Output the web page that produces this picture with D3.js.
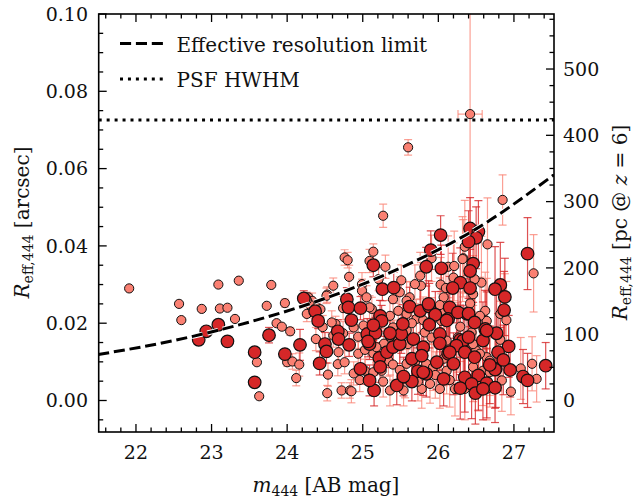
<!DOCTYPE html>
<html><head><meta charset="utf-8">
<script src="https://cdn.jsdelivr.net/npm/d3@7"></script>
<style>
body{margin:0;background:#fff}
svg{display:block}
text{font-family:"DejaVu Serif",serif;fill:#111}
</style>
</head><body>
<svg id="c" width="633" height="499"></svg>
<script>
// ---------- data ----------
const xTicks = [22, 23, 24, 25, 26, 27];
const yTicks = [0, 0.02, 0.04, 0.06, 0.08, 0.10];
const yTickLabels = ["0.00", "0.02", "0.04", "0.06", "0.08", "0.10"];
const pcTicks = [0, 100, 200, 300, 400, 500];
const pcPerArcsec = 5830;          // pc per arcsec at z = 6
const psfHWHM = 0.0726;            // arcsec
const limitM = [21.5, 22.5, 23.5, 24.5, 25.5, 26.5, 27.53];
const limitR = [0.0119, 0.0155, 0.0203, 0.0264, 0.0343, 0.0444, 0.0584];

// faint (salmon) sample
const smallM = [21.91,22.57,22.60,22.87,23.09,23.11,23.21,23.36,23.31,23.60,
  23.63,23.73,23.79,23.86,23.93,23.97,24.04,24.00,24.07,24.16,
  24.12,24.28,24.33,24.30,24.26,24.35,24.38,24.54,24.53,24.67,
  24.64,24.53,24.61,24.52,24.76,24.80,24.82,24.72,24.83,24.59,
  24.61,24.68,25.27,25.60,25.14,25.09,25.30,24.99,25.21,25.77,
  25.91,26.03,26.10,25.40,25.62,24.74,25.12,24.88,25.01,25.36,
  25.40,25.42,25.34,25.40,25.25,25.03,25.14,24.94,24.76,25.58,
  25.69,25.84,25.93,25.89,26.02,25.78,25.36,25.54,24.85,25.47,
  25.58,25.71,25.82,25.91,26.04,26.08,25.60,26.04,26.11,24.99,
  25.05,25.09,25.49,25.51,25.58,25.69,25.76,26.13,26.21,26.33,
  26.42,26.57,26.46,26.62,26.64,26.82,26.88,26.50,26.64,25.91,
  26.07,26.35,26.65,26.85,26.42,27.26,27.09,27.24,27.30,26.96,
  26.84,26.55,26.11,26.07,26.55,26.68,26.26,26.46,26.44,26.22,
  26.35,26.64,26.59,26.68,26.32,26.48,26.20,24.74,24.94,25.03,
  25.14,25.28,25.36,25.58,25.65,25.80,26.02,25.73,25.56,25.27,
  24.96,24.88,25.49,25.96,25.18,26.29,26.90,26.46,26.82,26.15,
  26.53,24.26,24.39,24.44,24.47];
const smallR = [0.0290,0.0250,0.0208,0.0237,0.0300,0.0238,0.0240,0.0310,0.0211,0.0099,
  0.0011,0.0245,0.0299,0.0200,0.0191,0.0252,0.0179,0.0099,0.0101,0.0093,
  0.0058,0.0267,0.0258,0.0248,0.0224,0.0234,0.0159,0.0067,0.0019,0.0094,
  0.0198,0.0274,0.0297,0.0271,0.0370,0.0363,0.0320,0.0026,0.0026,0.0202,
  0.0168,0.0125,0.0478,0.0655,0.0385,0.0361,0.0346,0.0301,0.0314,0.0297,
  0.0368,0.0300,0.0291,0.0262,0.0267,0.0239,0.0237,0.0189,0.0194,0.0219,
  0.0189,0.0168,0.0103,0.0093,0.0077,0.0077,0.0073,0.0121,0.0099,0.0095,
  0.0099,0.0095,0.0086,0.0043,0.0030,0.0030,0.0026,0.0026,0.0024,0.0232,
  0.0224,0.0211,0.0176,0.0163,0.0206,0.0232,0.0146,0.0146,0.0077,0.0284,
  0.0267,0.0241,0.0280,0.0311,0.0258,0.0301,0.0323,0.0346,0.0348,0.0368,
  0.0251,0.0305,0.0275,0.0232,0.0206,0.0224,0.0228,0.0129,0.0112,0.0206,
  0.0267,0.0398,0.0404,0.0519,0.0741,0.0329,0.0083,0.0095,0.0056,0.0023,
  0.0052,0.0219,0.0155,0.0108,0.0121,0.0103,0.0163,0.0146,0.0176,0.0030,
  0.0030,0.0030,0.0077,0.0073,0.0366,0.0314,0.0318,0.0174,0.0165,0.0131,
  0.0122,0.0147,0.0165,0.0182,0.0200,0.0208,0.0247,0.0049,0.0057,0.0049,
  0.0053,0.0070,0.0079,0.0066,0.0138,0.0191,0.0208,0.0087,0.0157,0.0053,
  0.0053,0.0260,0.0241,0.0236,0.0190];
const smallErr = [0,0,0,0,0,0,0,0,0,0,
  0,0,0,0,0,0.001,0.001,0.001,0.002,0.003,
  0.002,0.001,0.002,0.002,0.002,0.002,0.003,0.003,0.002,0.003,
  0.002,0.002,0.002,0.002,0.002,0.002,0.003,0.002,0.002,0.003,
  0.003,0.003,0.003,0.002,0.002,0.003,0.003,0.003,0.003,0.006,
  0.006,0.007,0.006,0.004,0.004,0.003,0.003,0.003,0.004,0.004,
  0.004,0.004,0.004,0.004,0.004,0.003,0.004,0.003,0.003,0.005,
  0.005,0.006,0.006,0.005,0.005,0.005,0.004,0.004,0.003,0.004,
  0.005,0.005,0.006,0.006,0.007,0.007,0.005,0.007,0.006,0.003,
  0.003,0.003,0.004,0.004,0.005,0.005,0.006,0.008,0.009,0.010,
  0.009,0.012,0.010,0.010,0.011,0.009,0.010,0.010,0.009,0.006,
  0.008,0.012,0.012,0.0065,0.045,0.010,0.008,0.007,0.006,0.006,
  0.008,0.010,0.008,0.007,0.009,0.009,0.009,0.010,0.010,0.007,
  0.008,0.008,0.009,0.009,0.011,0.011,0.009,0.003,0.003,0.004,
  0.004,0.004,0.004,0.005,0.005,0.006,0.007,0.005,0.005,0.004,
  0.003,0.003,0.005,0.006,0.004,0.009,0.010,0.009,0.010,0.007,
  0.008,0.002,0.002,0.002,0.003];
// horizontal error bar (only visible one)
const xErrM = [26.42];
const xErrR = [0.0741];
const xErrVal = [0.16];

// bright (red) sample
const bigM = [22.83,22.93,23.09,23.21,23.57,23.57,23.76,23.97,24.17,24.22,
  24.37,24.41,24.50,24.52,24.43,24.67,24.68,24.79,25.14,25.26,
  25.41,25.90,25.84,26.03,26.04,27.18,26.42,26.53,26.50,26.40,
  26.46,26.42,26.29,26.19,26.42,26.82,26.75,26.88,26.38,26.15,
  26.13,26.87,26.77,26.62,26.59,26.93,26.76,26.29,24.81,24.97,
  24.85,24.82,25.09,25.06,25.17,25.23,25.25,25.22,25.32,25.40,
  25.49,25.51,25.53,25.62,25.76,25.88,25.96,25.88,26.02,25.67,
  25.80,25.65,25.78,25.98,25.73,25.84,25.65,25.45,25.15,25.09,
  24.97,26.07,26.13,26.26,26.40,26.48,26.64,26.33,26.24,26.79,
  26.15,26.35,26.48,26.20,26.75,26.95,26.35,26.53,26.64,26.44,
  26.75,26.49,26.59,27.12,27.18,27.42,25.07,25.87,25.36,25.23,
  25.54,25.14,26.02,26.40,26.11,26.68,26.29,26.86,25.80];
const bigR = [0.0157,0.0179,0.0196,0.0153,0.0125,0.0047,0.0169,0.0120,0.0144,0.0264,
  0.0231,0.0206,0.0146,0.0127,0.0096,0.0179,0.0159,0.0262,0.0350,0.0288,
  0.0292,0.0389,0.0346,0.0428,0.0342,0.0380,0.0445,0.0437,0.0421,0.0411,
  0.0354,0.0335,0.0305,0.0291,0.0291,0.0299,0.0288,0.0268,0.0224,0.0241,
  0.0211,0.0234,0.0174,0.0185,0.0155,0.0140,0.0082,0.0157,0.0241,0.0239,
  0.0208,0.0144,0.0146,0.0172,0.0175,0.0219,0.0206,0.0110,0.0125,0.0138,
  0.0146,0.0172,0.0198,0.0243,0.0232,0.0243,0.0222,0.0196,0.0172,0.0159,
  0.0138,0.0108,0.0116,0.0099,0.0076,0.0069,0.0049,0.0039,0.0026,0.0052,
  0.0082,0.0056,0.0121,0.0228,0.0225,0.0202,0.0181,0.0155,0.0142,0.0125,
  0.0125,0.0125,0.0112,0.0095,0.0080,0.0079,0.0060,0.0065,0.0045,0.0043,
  0.0033,0.0019,0.0030,0.0062,0.0052,0.0090,0.0153,0.0250,0.0174,0.0087,
  0.0062,0.0195,0.0148,0.0164,0.0207,0.0092,0.0032,0.0105,0.0073];
const bigErr = [0,0.001,0,0,0,0,0.002,0.001,0.004,0.002,
  0.002,0.002,0.003,0.003,0.003,0.003,0.003,0.003,0.003,0.003,
  0.004,0.005,0.005,0.005,0.006,0.0093,0.008,0.008,0.008,0.008,
  0.010,0.010,0.009,0.009,0.010,0.011,0.011,0.010,0.010,0.008,
  0.008,0.010,0.011,0.010,0.010,0.008,0.010,0.009,0.003,0.003,
  0.003,0.003,0.004,0.004,0.004,0.004,0.004,0.004,0.004,0.005,
  0.005,0.005,0.005,0.005,0.006,0.006,0.006,0.006,0.007,0.006,
  0.006,0.006,0.006,0.007,0.006,0.006,0.005,0.005,0.004,0.004,
  0.004,0.007,0.008,0.009,0.009,0.010,0.010,0.009,0.009,0.010,
  0.008,0.009,0.010,0.008,0.010,0.007,0.009,0.009,0.009,0.009,
  0.009,0.008,0.008,0.007,0.007,0.006,0.004,0.006,0.005,0.004,
  0.005,0.004,0.007,0.010,0.008,0.010,0.008,0.009,0.006];

// ---------- layout ----------
const L = 98.7, R = 554, T = 14, B = 432;
const svg = d3.select("#c");
const x = d3.scaleLinear().domain([21.507, 27.53]).range([L, R]);
const y = d3.scaleLinear().domain([-0.00815, 0.10]).range([B, T]);
const yPc = d3.scaleLinear().domain([-0.00815 * pcPerArcsec, 0.10 * pcPerArcsec]).range([B, T]);

const salmon = "#fa8072", red = "#d62728";

svg.append("defs").append("clipPath").attr("id", "clip")
  .append("rect").attr("x", L).attr("y", T).attr("width", R - L).attr("height", B - T);
const plot = svg.append("g").attr("clip-path", "url(#clip)");

const small = smallM.map((m, i) => ({m, r: smallR[i], e: smallErr[i]}));
const big = bigM.map((m, i) => ({m, r: bigR[i], e: bigErr[i]}));

function errorbars(g, data, color, op) {
  const eg = g.append("g").attr("stroke", color).attr("stroke-opacity", op).attr("stroke-width", 1.2).attr("fill", "none");
  data.filter(d => d.e > 0).forEach(d => {
    const cx = x(d.m), y1 = y(d.r - d.e), y2 = y(d.r + d.e);
    eg.append("line").attr("x1", cx).attr("x2", cx).attr("y1", y1).attr("y2", y2);
    eg.append("line").attr("x1", cx - 4).attr("x2", cx + 4).attr("y1", y1).attr("y2", y1);
    eg.append("line").attr("x1", cx - 4).attr("x2", cx + 4).attr("y1", y2).attr("y2", y2);
  });
}
errorbars(plot, small, salmon, 0.75);
xErrM.forEach((m, i) => {
  const g = plot.append("g").attr("stroke", salmon).attr("stroke-opacity", 0.75).attr("stroke-width", 1.2);
  const cy = y(xErrR[i]), a = x(m - xErrVal[i]), b = x(m + xErrVal[i]);
  g.append("line").attr("x1", a).attr("x2", b).attr("y1", cy).attr("y2", cy);
  g.append("line").attr("x1", a).attr("x2", a).attr("y1", cy - 4).attr("y2", cy + 4);
  g.append("line").attr("x1", b).attr("x2", b).attr("y1", cy - 4).attr("y2", cy + 4);
});
errorbars(plot, big, red, 0.8);

plot.append("g").selectAll("circle").data(small).join("circle")
  .attr("cx", d => x(d.m)).attr("cy", d => y(d.r)).attr("r", 4.6)
  .attr("fill", salmon).attr("stroke", "#111").attr("stroke-width", 1);
plot.append("g").selectAll("circle").data(big).join("circle")
  .attr("cx", d => x(d.m)).attr("cy", d => y(d.r)).attr("r", 6.3)
  .attr("fill", red).attr("stroke", "#111").attr("stroke-width", 1.2);

// resolution limit curve
const limitData = limitM.map((m, i) => ({m, r: limitR[i]}));
const line = d3.line().x(d => x(d.m)).y(d => y(d.r)).curve(d3.curveMonotoneX);
plot.append("path").datum(limitData).attr("d", line).attr("fill", "none")
  .attr("stroke", "#fff").attr("stroke-width", 5).attr("stroke-dasharray", "11.1,4.8");
plot.append("path").datum(limitData).attr("d", line).attr("fill", "none")
  .attr("stroke", "#000").attr("stroke-width", 3).attr("stroke-dasharray", "11.1,4.8");
plot.append("line").attr("x1", L).attr("x2", R).attr("y1", y(psfHWHM)).attr("y2", y(psfHWHM))
  .attr("stroke", "#000").attr("stroke-width", 3).attr("stroke-dasharray", "3,4.95");

// ---------- axes ----------
const ax = svg.append("g").attr("stroke", "#000").attr("stroke-width", 1.3);
const xMinor = d3.range(21.6, 27.5, 0.2).filter(v => Math.abs(v - Math.round(v)) > 0.01);
const yMinor = d3.range(-0.005, 0.1001, 0.005).filter(v => Math.abs(v / 0.02 - Math.round(v / 0.02)) > 0.01);
const pcMinor = d3.range(-25, 580, 25).filter(v => v % 100 !== 0);
xTicks.forEach(v => {
  ax.append("line").attr("x1", x(v)).attr("x2", x(v)).attr("y1", B).attr("y2", B - 8);
  ax.append("line").attr("x1", x(v)).attr("x2", x(v)).attr("y1", T).attr("y2", T + 8);
});
xMinor.forEach(v => {
  ax.append("line").attr("x1", x(v)).attr("x2", x(v)).attr("y1", B).attr("y2", B - 4.5);
  ax.append("line").attr("x1", x(v)).attr("x2", x(v)).attr("y1", T).attr("y2", T + 4.5);
});
yTicks.forEach(v => ax.append("line").attr("x1", L).attr("x2", L + 8).attr("y1", y(v)).attr("y2", y(v)));
yMinor.forEach(v => ax.append("line").attr("x1", L).attr("x2", L + 4.5).attr("y1", y(v)).attr("y2", y(v)));
pcTicks.forEach(v => ax.append("line").attr("x1", R).attr("x2", R - 8).attr("y1", yPc(v)).attr("y2", yPc(v)));
pcMinor.forEach(v => ax.append("line").attr("x1", R).attr("x2", R - 4.5).attr("y1", yPc(v)).attr("y2", yPc(v)));
svg.append("rect").attr("x", L).attr("y", T).attr("width", R - L).attr("height", B - T)
  .attr("fill", "none").attr("stroke", "#000").attr("stroke-width", 1.6);

const fs = 19;
svg.append("g").selectAll("text").data(xTicks).join("text")
  .attr("x", d => x(d)).attr("y", 459).attr("text-anchor", "middle").attr("font-size", fs).text(d => d);
svg.append("g").selectAll("text").data(yTicks).join("text")
  .attr("x", 88).attr("y", d => y(d)).attr("dy", "0.36em").attr("text-anchor", "end").attr("font-size", fs)
  .text((d, i) => yTickLabels[i]);
svg.append("g").selectAll("text").data(pcTicks).join("text")
  .attr("x", 563).attr("y", d => yPc(d)).attr("dy", "0.36em").attr("text-anchor", "start").attr("font-size", fs)
  .text(d => d);

// axis labels
const xl = svg.append("text").attr("x", 326).attr("y", 492).attr("text-anchor", "middle").attr("font-size", 20);
xl.append("tspan").attr("font-style", "italic").text("m");
xl.append("tspan").attr("font-size", 14).attr("dy", 4).text("444");
xl.append("tspan").attr("dy", -4).text(" [AB mag]");

const yl = svg.append("text").attr("transform", "translate(29,222.5) rotate(-90)").attr("text-anchor", "middle").attr("font-size", 20);
yl.append("tspan").attr("font-style", "italic").text("R");
yl.append("tspan").attr("font-size", 14).attr("dy", 4).text("eff,444");
yl.append("tspan").attr("dy", -4).text(" [arcsec]");

const yr = svg.append("text").attr("transform", "translate(627,222.5) rotate(-90)").attr("text-anchor", "middle").attr("font-size", 20);
yr.append("tspan").attr("font-style", "italic").text("R");
yr.append("tspan").attr("font-size", 14).attr("dy", 4).text("eff,444");
yr.append("tspan").attr("dy", -4).text(" [pc @ ");
yr.append("tspan").attr("font-style", "italic").text("z");
yr.append("tspan").text(" = 6]");

// legend
const lg = svg.append("g");
lg.append("line").attr("x1", 120).attr("x2", 163).attr("y1", 43.5).attr("y2", 43.5)
  .attr("stroke", "#000").attr("stroke-width", 3).attr("stroke-dasharray", "11.1,4.8");
lg.append("line").attr("x1", 120).attr("x2", 163).attr("y1", 79).attr("y2", 79)
  .attr("stroke", "#000").attr("stroke-width", 3).attr("stroke-dasharray", "3,4.95");
lg.append("text").attr("x", 176.5).attr("y", 52).attr("font-size", 20).text("Effective resolution limit");
lg.append("text").attr("x", 176.5).attr("y", 87).attr("font-size", 20).text("PSF HWHM");
</script>
</body></html>
